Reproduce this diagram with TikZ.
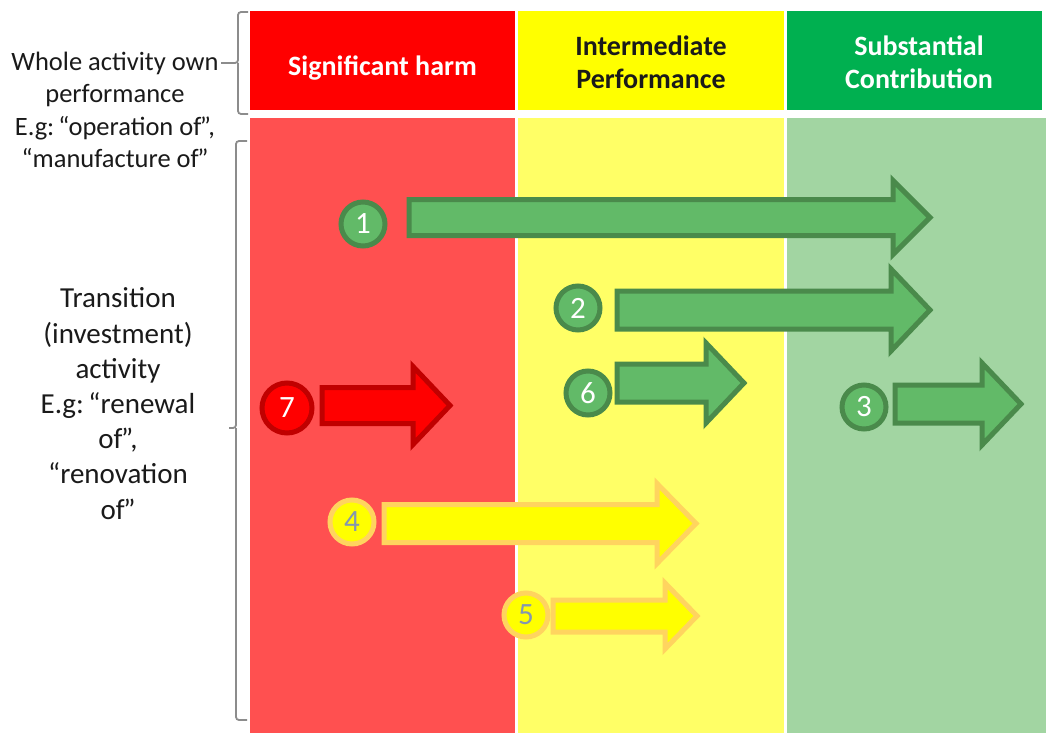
\documentclass[tikz,border=0pt]{standalone}
\usepackage{fontspec}
\setmainfont{Carlito}
\definecolor{hred}{HTML}{FF0000}
\definecolor{hyel}{HTML}{FFFF00}
\definecolor{hgrn}{HTML}{00B050}
\definecolor{bred}{HTML}{FF5050}
\definecolor{byel}{HTML}{FFFF66}
\definecolor{bgrn}{HTML}{A2D5A2}
\definecolor{agrn}{HTML}{62BA68}
\definecolor{agrnd}{HTML}{4A8A4B}
\definecolor{ared}{HTML}{FF0000}
\definecolor{aredd}{HTML}{C00000}
\definecolor{ayel}{HTML}{FFFF00}
\definecolor{ayeld}{HTML}{FFD45F}
\definecolor{numblue}{HTML}{8497B0}
\definecolor{txt}{HTML}{1A1A1A}
\definecolor{brace}{HTML}{8C8C8C}
\newcommand{\blkarrow}[7]{% x0, xs, xt, yc, shafthalf, headhalf, style
  \draw[#7] (#1,#4-#5) -- (#2,#4-#5) -- (#2,#4-#6) -- (#3,#4) -- (#2,#4+#6) -- (#2,#4+#5) -- (#1,#4+#5) -- cycle;}
\newcommand{\myrq}{\kern-1.5pt”}
\newcommand{\myeg}{E.g:\kern-2pt\ “}
\begin{document}
\begin{tikzpicture}[x=1pt,y=-1pt,
  hdr/.style={font=\fontsize{28}{33}\selectfont\bfseries, align=center},
  sideA/.style={font=\fontsize{26.5}{32.3}\selectfont, align=center, text=txt},
  sideB/.style={font=\fontsize{29}{35.2}\selectfont, align=center, text=txt},
  num/.style={circle, minimum size=44pt, inner sep=0pt, line width=5pt, font=\fontsize{31}{31}\selectfont},
  gnum/.style={num, fill=agrn, draw=agrnd, text=white},
  rnum/.style={num, fill=ared, draw=aredd, text=white},
  ynum/.style={num, fill=ayel, draw=ayeld, text=numblue},
  garr/.style={fill=agrn, draw=agrnd, line width=5pt},
  rarr/.style={fill=ared, draw=aredd, line width=5pt},
  yarr/.style={fill=ayel, draw=ayeld, line width=5pt},
  br/.style={draw=brace, line width=1.8pt, rounded corners=3pt}]
\useasboundingbox (0,0) rectangle (1046,733);
\fill[white] (0,0) rectangle (1046,733);
% header
\fill[hred] (250,11) rectangle (515,110);
\fill[hyel] (518,11) rectangle (784,110);
\fill[hgrn] (787,11) rectangle (1042,110);
% body
\fill[bred] (250,118) rectangle (515,733);
\fill[byel] (518,118) rectangle (784,733);
\fill[bgrn] (787,118) rectangle (1046,733);
\node[hdr, text=white] (h1) at (382.5,68) {Significant harm};
\node[hdr, text=txt] (h2) at (651,62) {Intermediate\\Performance};
\node[hdr, text=white] (h3) at (919,62) {Substantial\\Contribution};
% side labels
\node[sideA] (s1) at (115,110) {Whole activity own\\performance\\\myeg operation of\myrq,\\“manufacture of\myrq};
\node[sideB] (s2) at (118,403.5) {Transition\\(investment)\\activity\\\myeg renewal\\of\myrq,\\“renovation\\of\myrq};
% braces
\draw[br] (248,12) -- (238,12) -- (238,63) -- (231,63) (238,63) -- (238,114) -- (248,114);
\draw[br, sharp corners] (231,63) -- (221,63);
\draw[br] (247,141) -- (236,141) -- (236,428) -- (229,428) (236,428) -- (236,720) -- (247,720);
% arrows
\blkarrow{409}{893}{930}{217.5}{18}{37}{garr}
\blkarrow{617}{891}{930}{310}{19}{41}{garr}
\blkarrow{617}{706}{744}{383}{19}{40}{garr}
\blkarrow{895}{982}{1021}{404}{19}{41}{garr}
\blkarrow{322}{413}{450}{405.5}{18}{39}{rarr}
\blkarrow{384}{657}{696}{523.5}{19}{40}{yarr}
\blkarrow{553}{665}{697}{616}{16}{33}{yarr}
% circles
\node[gnum] (n1) at (363,224) {1};
\node[gnum] (n2) at (578,308) {2};
\node[gnum] (n3) at (864,407) {3};
\node[ynum] (n4) at (352,522) {4};
\node[ynum] (n5) at (526,615) {5};
\node[gnum] (n6) at (588,393) {6};
\node[rnum, minimum size=50pt] (n7) at (287,408) {7};
\end{tikzpicture}
\end{document}
